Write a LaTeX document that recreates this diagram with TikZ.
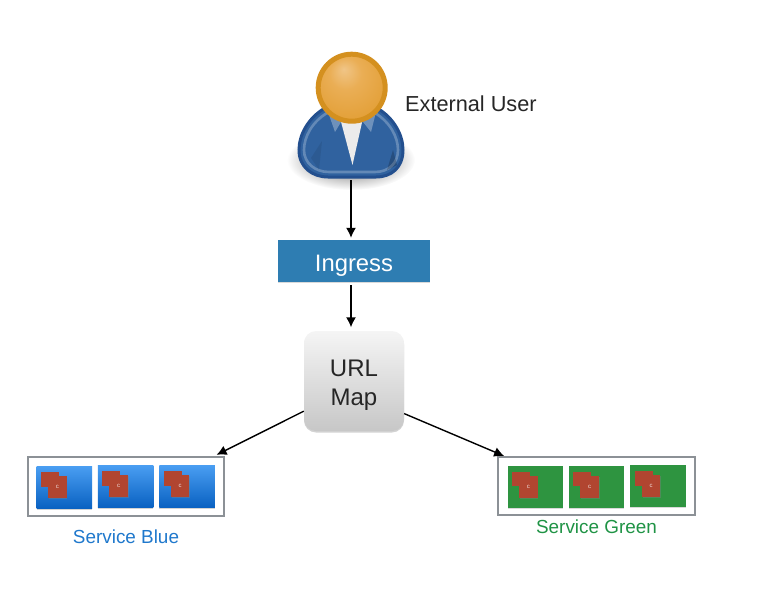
\documentclass[tikz,border=0pt]{standalone}
\usepackage{fontspec}
\setmainfont{Liberation Sans}
\usetikzlibrary{shadows,fadings,arrows.meta}
\definecolor{ringor}{HTML}{D4901F}
\definecolor{ingressblue}{HTML}{2E7DB2}
\definecolor{bodyedge}{HTML}{234F8E}
\definecolor{bodyfill}{HTML}{30629F}
\definecolor{tiletop}{HTML}{4A9EF2}
\definecolor{tilebot}{HTML}{0A62C2}
\definecolor{tilegreen}{HTML}{2E9440}
\definecolor{brick}{HTML}{B14530}
\definecolor{frame}{HTML}{8C9196}
\definecolor{blueink}{HTML}{1F78CC}
\definecolor{greenink}{HTML}{1F9345}
\definecolor{inkgray}{HTML}{262626}
\definecolor{HeadA}{HTML}{F0C587}
\definecolor{HeadB}{HTML}{EAAE55}
\definecolor{HeadC}{HTML}{E09A2C}
\pgfdeclareradialshading{headshade}{\pgfpoint{-6bp}{14bp}}{color(0bp)=(HeadA);color(12bp)=(HeadB);color(38bp)=(HeadC);color(50bp)=(HeadC)}
\tikzfading[name=softshadow,inner color=transparent!35,outer color=transparent!100]
\tikzset{
  x=1pt,y=-1pt,
  arrowline/.style={draw=black,line width=1.4pt,-{Latex[length=10pt,width=10pt]}},
  bluetile/.style={rectangle,inner sep=0pt,minimum width=55.5pt,minimum height=42pt,top color=tiletop,bottom color=tilebot,drop shadow={shadow xshift=0pt,shadow yshift=-1.5pt,opacity=.35}},
  greentile/.style={rectangle,inner sep=0pt,minimum width=55.5pt,minimum height=42pt,fill=tilegreen,drop shadow={shadow xshift=0pt,shadow yshift=-.8pt,opacity=.3}},
  backcard/.style={rectangle,inner sep=0pt,minimum width=18pt,minimum height=14.7pt,fill=brick},
  frontcard/.style={rectangle,inner sep=0pt,minimum width=18.7pt,minimum height=22pt,fill=brick,text=white!80!brick,font=\fontsize{6}{6}\selectfont,drop shadow={shadow xshift=.8pt,shadow yshift=-.8pt,opacity=.4}},
  groupframe/.style={rectangle,draw=frame,line width=2pt,inner sep=0pt},
  lbl/.style={inner sep=0pt,anchor=center},
}
\newcommand{\tilecards}[4]{% name, style, cx, cy
  \node[#2] (#1) at (#3,#4) {};
  \node[backcard] (#1b) at (#3-27.75+13.3,#4-21+13.35) {};
  \node[frontcard] (#1f) at (#3-27.75+20.65,#4-21+21) {c};
}
\begin{document}
\begin{tikzpicture}
\useasboundingbox (0,0) rectangle (780,589);
% user figure
\fill[black,path fading=softshadow] (351,160) ellipse (64 and 30);
\node[rectangle,inner sep=0pt,minimum width=106pt,minimum height=128pt] (user) at (351,116) {};
\path[fill=bodyfill,draw=bodyedge,line width=3pt]
  (325,108) .. controls (308,118) and (299,135) .. (299,150)
  .. controls (299,167) and (312,177) .. (328,177) -- (376,177)
  .. controls (392,177) and (403,167) .. (403,150)
  .. controls (403,135) and (394,118) .. (377,108) -- cycle;
\path[draw=white,draw opacity=.25,line width=2.6pt]
  (327,113) .. controls (312,122) and (304,137) .. (304,150)
  .. controls (304,163) and (315,172) .. (329,172) -- (375,172)
  .. controls (389,172) and (398,163) .. (398,150)
  .. controls (398,137) and (390,122) .. (375,113);
\fill[black,opacity=.08] (311,158) -- (322,141) -- (319,170) -- cycle;
\fill[black,opacity=.2] (387,170) -- (393,150) -- (397,165) -- cycle;
\fill[white!92!black] (340,118) -- (363,118) -- (352.5,165) -- cycle;
\fill[white,opacity=.3] (328,112) -- (335,132) -- (341,122) -- (340,112) -- cycle;
\fill[white,opacity=.3] (363,122) -- (371,132) -- (376,112) -- (363,112) -- cycle;
\shade[shading=headshade,draw=ringor,line width=5pt] (351.7,87.7) circle (33.5);
\node[lbl,anchor=west,font=\fontsize{21.7}{26}\selectfont,text=inkgray] (userlabel) at (405,104) {External User};
% ingress
\node[rectangle,inner sep=0pt,minimum width=152pt,minimum height=42pt,fill=ingressblue,text=white,font=\fontsize{23.8}{28}\selectfont,text height=20pt,text depth=0pt,drop shadow={shadow xshift=0pt,shadow yshift=-1pt,opacity=.3}] (ingress) at (354,261) {Ingress};
% url map
\node[rectangle,rounded corners=12pt,inner sep=0pt,minimum width=100pt,minimum height=100pt,top color=white!96!black,bottom color=white!78!black,drop shadow={shadow xshift=0pt,shadow yshift=-1.5pt,opacity=.35},text=inkgray,font=\fontsize{24}{29}\selectfont,align=center] (urlmap) at (354,381) {\rule{0pt}{24pt}URL\\Map};
% service groups
\node[groupframe,minimum width=196.5pt,minimum height=59pt] (blue) at (125.75,486.5) {};
\node[groupframe,minimum width=197pt,minimum height=58pt] (green) at (596.5,486) {};
\tilecards{ba}{bluetile}{64.4}{487}
\tilecards{bb}{bluetile}{125.7}{486}
\tilecards{bc}{bluetile}{187.2}{486}
\tilecards{ga}{greentile}{535.4}{486.7}
\tilecards{gb}{greentile}{596.7}{486.7}
\tilecards{gc}{greentile}{658.2}{485.9}
\node[lbl,font=\fontsize{18.9}{23}\selectfont,text=blueink] (bluelabel) at (126,537) {Service Blue};
\node[lbl,font=\fontsize{18.9}{23}\selectfont,text=greenink] (greenlabel) at (596.5,527) {Service Green};
% connectors
\draw[arrowline,shorten >=2pt] (user.south) -- (user.south |- ingress.north);
\draw[arrowline,shorten <=3pt,shorten >=3.5pt] (user.south |- ingress.south) -- (user.south |- urlmap.north);
\draw[arrowline,shorten >=2.5pt] (urlmap.211) -- (blue.19.8);
\draw[arrowline] (urlmap.-33.4) -- (green.162.1);
\end{tikzpicture}
\end{document}
